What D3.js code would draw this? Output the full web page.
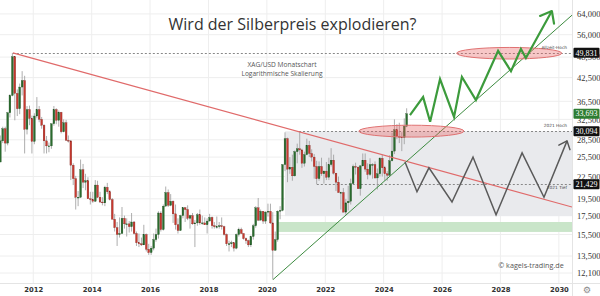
<!DOCTYPE html>
<html><head><meta charset="utf-8">
<script src="https://cdn.jsdelivr.net/npm/d3@7"></script>
<style>
html,body{margin:0;padding:0;background:#fff;}
svg{display:block;}
</style></head><body>
<svg id="chart" width="600" height="296"></svg>
<script>
// ---------- DATA ----------
const firstMonth = "2010-11";   // first candle (monthly XAG/USD)
const lastMonth = "2024-10";    // last candle
const opens = [
  24.7, 28.3,
  30.6, 27.9, 33.9, 37.9, 48.6, 38.4, 34.8, 40.0, 41.7, 30.5, 34.6, 32.7,
  28.2, 33.2, 34.6, 32.5, 31.3, 28.3, 27.4, 27.4, 31.6, 34.6, 32.3, 34.0,
  30.0, 31.8, 28.4, 28.3, 24.2, 22.2, 19.7, 19.7, 23.5, 21.7, 21.9, 19.5,
  19.4, 19.2, 21.3, 19.7, 19.1, 19.0, 21.0, 20.4, 19.4, 17.1, 16.2, 15.5,
  15.6, 17.2, 16.6, 16.6, 16.3, 16.8, 15.6, 14.7, 14.6, 14.5, 15.5, 14.1,
  13.8, 14.2, 15.0, 15.5, 17.8, 16.0, 18.6, 20.3, 18.7, 19.2, 17.7, 16.5,
  15.9, 17.5, 18.4, 18.2, 17.2, 17.5, 16.6, 16.7, 17.6, 16.7, 16.7, 16.5,
  16.9, 17.3, 16.4, 16.3, 16.3, 16.4, 16.3, 15.5, 14.6, 14.6, 14.7, 14.2,
  15.5, 16.0, 15.6, 15.1, 14.9, 14.5, 15.3, 16.4, 18.4, 17.0, 18.0, 16.9,
  17.9, 18.0, 16.7, 14.0, 15.0, 18.0, 18.1, 24.3, 28.7, 23.6, 23.9, 22.6,
  26.4, 26.9, 26.7, 24.5, 25.9, 27.5, 26.1, 25.5, 24.0, 22.2, 24.0, 22.9,
  23.3, 22.4, 24.3, 25.0, 23.0, 21.7, 20.3, 20.3, 17.9, 19.0, 19.2, 21.5,
  24.0, 23.9, 20.8, 24.1, 25.0, 23.6, 22.8, 24.3, 24.3, 22.3, 22.9, 25.3,
  23.8, 22.9, 22.7, 24.9, 26.5, 30.4, 29.1, 29.0, 28.9, 31.1
];
const highs = [
  29.3, 31.0,
  31.0, 34.1, 38.2, 49.8, 48.8, 39.4, 40.9, 44.3, 43.0, 35.4, 35.5, 33.3,
  33.8, 37.5, 35.4, 33.0, 31.5, 29.2, 28.0, 31.6, 35.4, 34.9, 34.4, 34.1,
  32.5, 32.4, 29.3, 28.4, 24.5, 22.6, 20.5, 25.1, 24.4, 22.9, 22.4, 20.4,
  20.4, 22.0, 21.9, 20.4, 19.7, 21.2, 21.6, 20.6, 19.6, 17.7, 16.8, 17.3,
  18.5, 17.5, 17.2, 16.9, 17.8, 16.9, 15.8, 15.6, 15.2, 16.5, 15.6, 14.6,
  14.4, 15.6, 16.1, 18.0, 18.0, 18.8, 21.1, 20.7, 20.1, 19.3, 18.8, 17.2,
  17.6, 18.5, 18.5, 18.7, 17.6, 17.8, 17.0, 17.8, 18.2, 17.5, 17.3, 17.2,
  17.7, 17.4, 16.8, 17.4, 16.8, 17.3, 16.4, 15.6, 14.9, 14.9, 14.7, 15.6,
  16.2, 16.2, 15.6, 15.2, 15.0, 15.4, 16.6, 18.6, 19.6, 18.2, 18.0, 18.0,
  18.9, 18.9, 17.9, 15.8, 18.1, 18.6, 24.3, 29.9, 28.9, 25.5, 25.9, 26.6,
  27.8, 30.09, 26.9, 26.4, 28.7, 28.3, 26.8, 26.0, 24.9, 24.8, 25.4, 23.4,
  24.7, 25.4, 27.0, 25.9, 23.0, 22.5, 20.4, 20.9, 19.5, 21.2, 22.2, 24.3,
  24.6, 24.0, 24.2, 26.1, 26.1, 24.5, 25.3, 24.5, 24.8, 23.7, 25.5, 25.9,
  24.1, 23.3, 25.8, 29.8, 32.5, 31.5, 31.8, 29.9, 32.7, 34.9
];
const lows = [
  25.0, 27.9,
  26.4, 27.5, 32.9, 37.7, 32.3, 33.2, 33.6, 37.9, 26.1, 29.5, 31.3, 26.1,
  27.7, 32.7, 31.9, 30.6, 26.1, 26.1, 26.3, 26.9, 31.2, 31.5, 31.0, 29.7,
  29.9, 28.3, 28.0, 22.0, 21.3, 18.2, 18.6, 19.6, 20.9, 20.6, 19.5, 18.8,
  19.0, 19.1, 19.6, 19.0, 18.7, 18.6, 20.1, 19.3, 17.1, 15.8, 14.4, 15.2,
  15.6, 16.1, 15.3, 15.7, 15.8, 15.5, 14.4, 14.3, 14.4, 14.5, 13.9, 13.6,
  13.6, 14.0, 14.8, 15.1, 15.8, 15.9, 18.6, 18.5, 18.6, 16.7, 16.0, 15.6,
  15.9, 17.2, 16.8, 17.0, 16.1, 16.5, 14.3, 16.4, 16.5, 16.5, 16.5, 15.6,
  16.9, 16.1, 16.1, 16.1, 16.1, 16.0, 15.4, 14.4, 13.9, 14.3, 13.9, 14.1,
  15.3, 15.6, 15.0, 14.6, 14.3, 14.3, 15.0, 16.2, 16.9, 17.0, 16.6, 16.6,
  17.4, 16.6, 11.6, 14.0, 14.8, 17.1, 18.0, 23.3, 21.7, 22.9, 21.9, 22.5,
  24.5, 25.9, 23.8, 24.0, 25.8, 25.5, 24.8, 22.2, 21.43, 21.9, 22.6, 21.5,
  22.0, 22.0, 24.0, 22.8, 20.5, 20.3, 18.2, 17.9, 17.6, 18.1, 18.8, 21.5,
  22.8, 20.8, 19.9, 24.0, 23.2, 22.1, 22.6, 22.2, 22.2, 20.7, 22.5, 22.5,
  21.9, 21.9, 22.5, 24.8, 26.0, 28.6, 27.9, 26.5, 27.7, 30.9
];
const closes = [
  28.3, 30.6,
  27.9, 33.9, 37.9, 48.6, 38.4, 34.8, 40.0, 41.7, 30.5, 34.6, 32.7, 28.2,
  33.2, 34.6, 32.5, 31.3, 28.3, 27.4, 27.4, 31.6, 34.6, 32.3, 34.0, 30.0,
  31.8, 28.4, 28.3, 24.2, 22.2, 19.7, 19.7, 23.5, 21.7, 21.9, 19.5, 19.4,
  19.2, 21.3, 19.7, 19.1, 19.0, 21.0, 20.4, 19.4, 17.1, 16.2, 15.5, 15.6,
  17.2, 16.6, 16.6, 16.3, 16.8, 15.6, 14.7, 14.6, 14.5, 15.5, 14.1, 13.8,
  14.2, 15.0, 15.5, 17.8, 16.0, 18.6, 20.3, 18.7, 19.2, 17.7, 16.5, 15.9,
  17.5, 18.4, 18.2, 17.2, 17.5, 16.6, 16.7, 17.6, 16.7, 16.7, 16.5, 16.9,
  17.3, 16.4, 16.3, 16.3, 16.4, 16.3, 15.5, 14.6, 14.6, 14.7, 14.2, 15.5,
  16.0, 15.6, 15.1, 14.9, 14.5, 15.3, 16.4, 18.4, 17.0, 18.0, 16.9, 17.9,
  18.0, 16.7, 14.0, 15.0, 18.0, 18.1, 24.3, 28.7, 23.6, 23.9, 22.6, 26.4,
  26.9, 26.7, 24.5, 25.9, 27.5, 26.1, 25.5, 24.0, 22.2, 24.0, 22.9, 23.3,
  22.4, 24.3, 25.0, 23.0, 21.7, 20.3, 20.3, 17.9, 19.0, 19.2, 21.5, 24.0,
  23.9, 20.8, 24.1, 25.0, 23.6, 22.8, 24.3, 24.3, 22.3, 22.9, 25.3, 23.8,
  22.9, 22.7, 24.9, 26.5, 30.4, 29.1, 29.0, 28.9, 31.1, 33.693
];

// axis ticks (48,500 and 32,500 sit behind the price boxes, as in the original)
const yTickValues = [64, 56, 48.5, 42.5, 36.5, 32.5, 28.5, 25.5, 22.5, 19.5, 17.5, 15.5, 13.5, 12.1];
const xTickYears = [2012, 2014, 2016, 2018, 2020, 2022, 2024, 2026, 2028, 2030];

// price levels (labels on the right axis)
const levelNames = ["Allzeit-Hoch", "2021 Hoch", "2021 Tief"];
const levelValues = [49.831, 30.094, 21.429];
const levelStartYears = [2011.30, 2021.10, 2021.71];
const lastPrice = 33.693;

// trend lines
const resistanceYears = [2011.30, 2030.45];
const resistanceValues = [49.83, 18.5];
const supportYears = [2020.21, 2030.45];
const supportValues = [11.6, 63.5];

// zones
const rangeBoxYears = [2020.62, 2030.45];
const rangeBoxValues = [17.45, 30.094];
const greenBandYears = [2020.38, 2030.45];
const greenBandValues = [15.76, 16.8];
const ellipseYears = [[2023.15, 2026.75], [2026.50, 2030.10]];
const ellipseValues = [[29.0, 31.3], [47.9, 51.6]];

// scenarios
const bearYears  = [2024.73, 2025.14, 2025.55, 2026.34, 2027.06, 2027.85, 2028.74, 2029.49, 2030.28];
const bearValues = [24.7, 20.4, 23.8, 19.1, 25.5, 17.6, 26.2, 19.7, 28.3];
const bullYears  = [2024.90, 2025.35, 2025.59, 2025.93, 2026.41, 2026.68, 2027.16, 2027.92, 2028.36, 2028.70, 2028.87, 2029.76];
const bullValues = [33.4, 37.5, 32.0, 42.1, 33.0, 42.7, 36.8, 50.5, 44.3, 51.1, 48.2, 65.2];

const titleText = "Wird der Silberpreis explodieren?";
const subtitleLines = ["XAG/USD Monatschart", "Logarithmische Skalierung"];
const creditText = "© kagels-trading.de";

// ---------- CHART ----------
const plotR = 572, plotB = 283;
const svg = d3.select('#chart');
const yr = v => { const yi = Math.floor(v); const a = new Date(yi,0,1), b = new Date(yi+1,0,1); return new Date(+a + (v-yi)*(b-a)); };
const x = d3.scaleTime().domain([yr(2010.86), yr(2030.45)]).range([0, plotR]);
const y = d3.scaleLog().domain([11.35, 70]).range([plotB, 0]);
const de = d3.formatLocale({decimal: ",", thousands: ".", grouping: [3], currency: ["", "€"]});
const fmt = de.format(".3f");

svg.append("rect").attr("width", 600).attr("height", 296).attr("fill", "#fff");
svg.append("defs").append("clipPath").attr("id", "clip")
  .append("rect").attr("width", plotR).attr("height", plotB);

// grid
const grid = svg.append("g").attr("clip-path", "url(#clip)");
grid.selectAll("line.h").data(yTickValues).join("line")
  .attr("x1", 0).attr("x2", plotR).attr("y1", d => y(d)).attr("y2", d => y(d))
  .attr("stroke", "#eeeeee").attr("stroke-width", 1);
grid.selectAll("line.v").data(xTickYears).join("line")
  .attr("y1", 0).attr("y2", plotB).attr("x1", d => x(yr(d))).attr("x2", d => x(yr(d)))
  .attr("stroke", "#eeeeee").attr("stroke-width", 1);

const plot = svg.append("g").attr("clip-path", "url(#clip)");

// zones
plot.append("rect")
  .attr("x", x(yr(rangeBoxYears[0]))).attr("width", x(yr(rangeBoxYears[1])) - x(yr(rangeBoxYears[0])))
  .attr("y", y(rangeBoxValues[1])).attr("height", y(rangeBoxValues[0]) - y(rangeBoxValues[1]))
  .attr("fill", "#e9eaed");
plot.append("rect")
  .attr("x", x(yr(greenBandYears[0]))).attr("width", x(yr(greenBandYears[1])) - x(yr(greenBandYears[0])))
  .attr("y", y(greenBandValues[1])).attr("height", y(greenBandValues[0]) - y(greenBandValues[1]))
  .attr("fill", "#c9e5c9");

// level dashed lines
plot.selectAll("line.lvl").data(levelValues).join("line")
  .attr("x1", (d,i) => x(yr(levelStartYears[i]))).attr("x2", plotR)
  .attr("y1", d => Math.round(y(d)) + 0.5).attr("y2", d => Math.round(y(d)) + 0.5)
  .attr("stroke", "#888").attr("stroke-width", 1).attr("stroke-dasharray", "2,2");

// candles
const p = s => { const [a,b] = s.split("-").map(Number); return new Date(a, b-1, 1); };
const months = d3.timeMonth.range(p(firstMonth), d3.timeMonth.offset(p(lastMonth), 1));
const candles = months.map((m,i) => ({t: d3.timeDay.offset(m, 14), o: opens[i], h: highs[i], l: lows[i], c: closes[i]}));
const cg = plot.append("g");
cg.selectAll("line").data(candles).join("line")
  .attr("x1", d => x(d.t)).attr("x2", d => x(d.t))
  .attr("y1", d => y(d.h)).attr("y2", d => y(d.l))
  .attr("stroke", "#999").attr("stroke-width", 0.8);
const bw = 1.8;
cg.selectAll("rect").data(candles).join("rect")
  .attr("x", d => x(d.t) - bw/2).attr("width", bw)
  .attr("y", d => y(Math.max(d.o, d.c)))
  .attr("height", d => Math.max(0.8, Math.abs(y(d.o) - y(d.c))))
  .attr("fill", d => d.c >= d.o ? "#2a6b2e" : "#c9392f")
  .attr("stroke", d => d.c >= d.o ? "#1d4d20" : "#7a2520").attr("stroke-width", 0.3);

// trend lines
const lineGen = d3.line().x(d => x(yr(d[0]))).y(d => y(d[1]));
plot.append("path").attr("d", lineGen(d3.zip(resistanceYears, resistanceValues)))
  .attr("fill", "none").attr("stroke", "#e06a6a").attr("stroke-width", 1.2);
plot.append("path").attr("d", lineGen(d3.zip(supportYears, supportValues)))
  .attr("fill", "none").attr("stroke", "#3d8b40").attr("stroke-width", 1);

// ellipses
plot.selectAll("ellipse").data(ellipseYears).join("ellipse")
  .attr("cx", d => (x(yr(d[0])) + x(yr(d[1]))) / 2)
  .attr("rx", d => (x(yr(d[1])) - x(yr(d[0]))) / 2)
  .attr("cy", (d,i) => (y(ellipseValues[i][0]) + y(ellipseValues[i][1])) / 2)
  .attr("ry", (d,i) => (y(ellipseValues[i][0]) - y(ellipseValues[i][1])) / 2)
  .attr("fill", "rgba(232,95,95,0.35)").attr("stroke", "#e07272").attr("stroke-width", 1);

// arrow markers
const defs = svg.select("defs");
defs.append("marker").attr("id", "arrBull").attr("markerUnits", "userSpaceOnUse")
  .attr("viewBox", "-12 -10 14 20").attr("refX", 0).attr("refY", 0)
  .attr("markerWidth", 14).attr("markerHeight", 20).attr("orient", "auto")
  .append("path").attr("d", "M-10,-8L0,0L-10,8").attr("fill", "none")
  .attr("stroke", "#3c9b3c").attr("stroke-width", 2.2).attr("stroke-linecap", "round").attr("stroke-linejoin", "round");
defs.append("marker").attr("id", "arrBear").attr("markerUnits", "userSpaceOnUse")
  .attr("viewBox", "-10 -8 12 16").attr("refX", 0).attr("refY", 0)
  .attr("markerWidth", 12).attr("markerHeight", 16).attr("orient", "auto")
  .append("path").attr("d", "M-7,-6L0,0L-7,6").attr("fill", "none")
  .attr("stroke", "#555").attr("stroke-width", 1.5).attr("stroke-linecap", "round").attr("stroke-linejoin", "round");

svg.append("path").attr("d", lineGen(d3.zip(bearYears, bearValues)))
  .attr("fill", "none").attr("stroke", "#5a5a5a").attr("stroke-width", 1.5)
  .attr("stroke-linejoin", "miter").attr("marker-end", "url(#arrBear)");
svg.append("path").attr("d", lineGen(d3.zip(bullYears, bullValues)))
  .attr("fill", "none").attr("stroke", "#3c9b3c").attr("stroke-width", 2.2)
  .attr("stroke-linejoin", "miter").attr("marker-end", "url(#arrBull)");

// borders
svg.append("line").attr("x1", plotR + 0.5).attr("x2", plotR + 0.5).attr("y1", 0).attr("y2", 296).attr("stroke", "#e4e4e4");
svg.append("line").attr("x1", 0).attr("x2", 600).attr("y1", plotB + 0.5).attr("y2", plotB + 0.5).attr("stroke", "#e4e4e4");

// right axis
const yAxis = d3.axisRight(y).tickValues(yTickValues).tickFormat(fmt).tickSize(0).tickPadding(0);
const ya = svg.append("g").attr("transform", `translate(577,0)`).call(yAxis);
ya.select(".domain").remove();
ya.selectAll("text").attr("font-family", "'Liberation Serif', serif").attr("font-size", 8.5).attr("fill", "#333");

// bottom axis
const xAxis = d3.axisBottom(x).tickValues(xTickYears.map(yr)).tickFormat(d3.timeFormat("%Y")).tickSize(0).tickPadding(4);
const xa = svg.append("g").attr("transform", `translate(0,${plotB})`).call(xAxis);
xa.select(".domain").remove();
xa.selectAll("text").attr("font-family", "'DejaVu Sans', sans-serif").attr("font-weight", "bold").attr("font-size", 6.8).attr("fill", "#333");

// level label boxes on right axis
const boxG = svg.append("g");
const boxVals = levelValues.concat([lastPrice]);
boxVals.forEach((v,i) => {
  const g = boxG.append("g").attr("transform", `translate(573.5,${y(v)})`);
  g.append("rect").attr("x", 0).attr("y", -5).attr("width", 26).attr("height", 10).attr("rx", 1)
    .attr("fill", i === 3 ? "#2e7d32" : "#111");
  g.append("text").attr("x", 13).attr("dy", "0.34em").attr("text-anchor", "middle").text(fmt(v))
    .attr("font-family", "'Liberation Serif', serif").attr("font-size", 8).attr("fill", "#fff");
});

// level small text
svg.selectAll("text.lvlname").data(levelNames).join("text")
  .attr("x", 567).attr("y", (d,i) => y(levelValues[i]) + (i === 2 ? 5 : -4))
  .attr("text-anchor", "end").attr("font-family", "'DejaVu Sans', sans-serif").attr("font-size", 4.3).attr("fill", "#444")
  .text(d => d);

// title
svg.append("text").attr("x", 292.5).attr("y", 30).attr("text-anchor", "middle")
  .attr("font-family", "'Open Sans', sans-serif").attr("font-size", 16).attr("fill", "#333").text(titleText);
svg.selectAll("text.sub").data(subtitleLines).join("text")
  .attr("x", 282).attr("y", (d,i) => 67 + i*8.5).attr("text-anchor", "middle")
  .attr("font-family", "'Open Sans', sans-serif").attr("font-size", 6.6).attr("fill", "#555").text(d => d);

// credit
svg.append("text").attr("x", 531).attr("y", 268).attr("text-anchor", "middle")
  .attr("font-family", "'Open Sans', sans-serif").attr("font-size", 7.2).attr("fill", "#555").text(creditText);

// gear icon
svg.append("text").attr("x", 587).attr("y", 293).attr("text-anchor", "middle")
  .attr("font-family", "'DejaVu Sans', sans-serif").attr("font-size", 9).attr("fill", "#888").text("⚙");
</script>
</body></html>
